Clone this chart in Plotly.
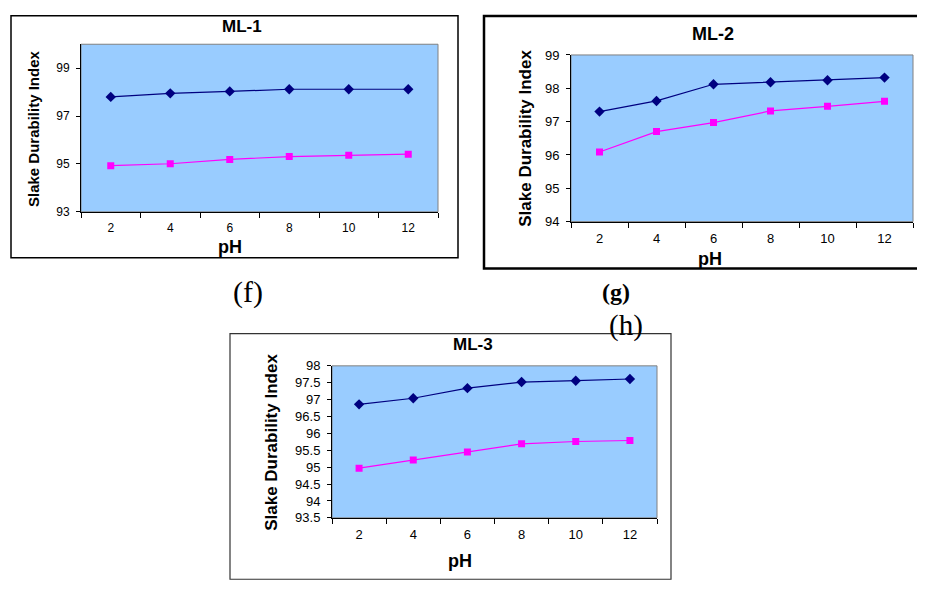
import plotly.graph_objects as go

# ---------------- data ----------------
ph = ["2", "4", "6", "8", "10", "12"]
ml1_a = [97.80, 97.95, 98.03, 98.12, 98.12, 98.12]
ml1_b = [94.93, 95.01, 95.19, 95.31, 95.36, 95.41]
ml2_a = [97.30, 97.62, 98.12, 98.18, 98.24, 98.32]
ml2_b = [96.09, 96.70, 96.97, 97.32, 97.46, 97.61]
ml3_a = [96.86, 97.04, 97.34, 97.52, 97.56, 97.61]
ml3_b = [94.97, 95.21, 95.45, 95.69, 95.76, 95.79]
titles = ["ML-1", "ML-2", "ML-3"]
y_title = "Slake Durability Index"
x_title = "pH"
panel_labels = ["(f)", "<b>(g)</b>", "(h)"]

W, H = 925, 589
OFF = 8  # page body margin offset


def px(x):
    return (x - OFF) / W


def py(y):
    return 1 - (y - OFF) / H


FONT = "Arial, Liberation Sans, sans-serif"
SERIF = "Times New Roman, Liberation Serif, serif"
NAVY = "#000080"
MAG = "#FF00FF"

fig = go.Figure()

panels = [
    dict(a=ml1_a, b=ml1_b, box=(81, 438, 38, 210), yr=[93, 100], dt=2, t0=93, tf=12),
    dict(a=ml2_a, b=ml2_b, box=(571, 913, 49, 220), yr=[94, 99], dt=1, t0=94, tf=13),
    dict(a=ml3_a, b=ml3_b, box=(332, 657, 368, 524), yr=[93.5, 98], dt=0.5, t0=93.5, tf=13),
]

layout_axes = {}
for i, p in enumerate(panels, start=1):
    sx = "" if i == 1 else str(i)
    xa, ya = "x" + sx, "y" + sx
    fig.add_trace(go.Scatter(
        x=ph, y=p["a"], xaxis=xa, yaxis=ya, mode="lines+markers",
        line=dict(color=NAVY, width=1.2),
        marker=dict(symbol="diamond", size=8, color=NAVY),
        showlegend=False))
    fig.add_trace(go.Scatter(
        x=ph, y=p["b"], xaxis=xa, yaxis=ya, mode="lines+markers",
        line=dict(color=MAG, width=1.2),
        marker=dict(symbol="square", size=7, color=MAG),
        showlegend=False))
    l, r, t, b = p["box"]
    layout_axes["xaxis" + sx] = dict(
        domain=[px(l), px(r)], anchor=ya, type="category",
        range=[-0.5, 5.5], tickson="boundaries", ticks="outside",
        ticklen=5, tickcolor="black", showline=True, linecolor="black",
        linewidth=1, showgrid=False, zeroline=False,
        tickfont=dict(family=FONT, size=p["tf"], color="black"),
        ticklabelstandoff=5, fixedrange=True)
    layout_axes["yaxis" + sx] = dict(
        domain=[py(b), py(t)], anchor=xa, range=p["yr"],
        tickmode="linear", tick0=p["t0"], dtick=p["dt"], ticks="outside",
        ticklen=4, tickcolor="black", showline=True, linecolor="black",
        linewidth=1, showgrid=False, zeroline=False,
        tickfont=dict(family=FONT, size=p["tf"], color="black"),
        ticklabelstandoff=4, fixedrange=True)

fig.update_layout(**layout_axes)

shapes = []
for i, p in enumerate(panels, start=1):
    sx = "" if i == 1 else str(i)
    shapes.append(dict(type="rect", xref="x" + sx + " domain", yref="y" + sx + " domain",
                       x0=0, x1=1, y0=0, y1=1, line=dict(color="#808080", width=1),
                       layer="below"))
frames = [((11, 458, 8.8, 257), 1.5, "black"),
          ((484, 940, 9, 268), 2.5, "black"),
          ((230, 671, 335, 587), 1.2, "#333333")]
for (l, r, t, b), w, c in frames:
    shapes.append(dict(type="rect", xref="paper", yref="paper",
                       x0=px(l), x1=px(r), y0=py(b), y1=py(t),
                       line=dict(color=c, width=w), layer="below"))

ann = []


def add_text(text, x, y, size, bold=False, angle=0, family=FONT):
    ann.append(dict(text=("<b>%s</b>" % text) if bold else text,
                    x=px(x), y=py(y), xref="paper", yref="paper",
                    showarrow=False, textangle=angle,
                    xanchor="center", yanchor="middle",
                    font=dict(family=family, size=size, color="black")))


add_text(titles[0], 242, 20, 17, bold=True)
add_text(titles[1], 713, 28, 18, bold=True)
add_text(titles[2], 473, 346, 17, bold=True)
add_text(y_title, 33, 125, 15, bold=True, angle=-90)
add_text(y_title, 526, 135, 17, bold=True, angle=-90)
add_text(y_title, 272, 447, 17, bold=True, angle=-90)
add_text(x_title, 230, 246, 18, bold=True)
add_text(x_title, 710, 258, 18, bold=True)
add_text(x_title, 460, 568, 18, bold=True)
add_text(panel_labels[0], 248, 292, 30, family=SERIF)
add_text(panel_labels[1], 616, 292, 24, family=SERIF)
add_text(panel_labels[2], 626, 327, 29, family=SERIF)

fig.update_layout(
    width=W, height=H, margin=dict(l=0, r=0, t=0, b=0),
    paper_bgcolor="white", plot_bgcolor="#99CCFF",
    shapes=shapes, annotations=ann, showlegend=False)

fig.write_html("out.html")
